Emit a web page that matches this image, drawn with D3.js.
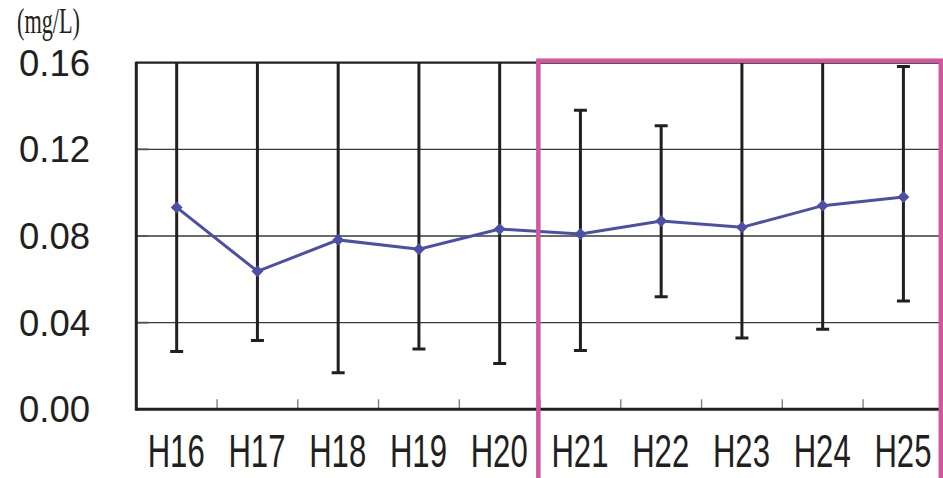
<!doctype html>
<html>
  <head>
    <meta charset="utf-8">
    <script src="https://cdn.jsdelivr.net/npm/d3@7"></script>
  <style>
    body { margin: 0; background: #fff; }
    svg { display: block; }
  </style>
  </head>
  <body>

    <svg width="943" height="478"></svg>

  <script>

    // data
    let years = ["H16","H17","H18","H19","H20","H21","H22","H23","H24","H25"]
    let means = [0.0932, 0.0637, 0.0782, 0.0739, 0.0832, 0.0809, 0.0869, 0.0840, 0.0940, 0.0980]
    let lows  = [0.0267, 0.0318, 0.0169, 0.0278, 0.0211, 0.0271, 0.0520, 0.0329, 0.0369, 0.0500]
    let highs = [0.175, 0.175, 0.175, 0.175, 0.175, 0.1380, 0.1309, 0.175, 0.175, 0.1582]
    let yTicks = [0, 0.04, 0.08, 0.12, 0.16]
    let highlight = ["H21", "H25"]

    let margin = {top: 62.7, left: 136.3, bottom: 409.3, right: 943.8}

    let svg = d3.select("svg")

    let x = d3.scaleBand()
              .domain(years)
              .range([margin.left, margin.right])

    let y = d3.scaleLinear()
              .domain([0, 0.16])
              .range([margin.bottom, margin.top])

    let cx = (d) => x(d) + x.bandwidth() / 2

    svg.append("clipPath").attr("id", "plot")
      .append("rect")
        .attr("x", margin.left).attr("y", margin.top)
        .attr("width", margin.right - margin.left)
        .attr("height", margin.bottom - margin.top)

    // gridlines
    svg.append("g")
      .selectAll("line")
      .data(yTicks.slice(1, 4))
      .enter().append("line")
        .attr("x1", margin.left).attr("x2", margin.right)
        .attr("y1", (d) => y(d)).attr("y2", (d) => y(d))
        .attr("stroke", "#3a3a3a")
        .attr("stroke-width", 1.3)

    // top border
    svg.append("line")
        .attr("x1", margin.left).attr("x2", margin.right)
        .attr("y1", y(0.16)).attr("y2", y(0.16))
        .attr("stroke", "#231f20")
        .attr("stroke-width", 2.2)

    // x ticks between categories, pointing up
    svg.append("g")
      .selectAll("line")
      .data(years.slice(1))
      .enter().append("line")
        .attr("x1", (d) => x(d)).attr("x2", (d) => x(d))
        .attr("y1", y(0)).attr("y2", y(0) - 10)
        .attr("stroke", "#777")
        .attr("stroke-width", 1.3)

    // y inner ticks
    svg.append("g")
      .selectAll("line")
      .data(yTicks.slice(1, 4))
      .enter().append("line")
        .attr("x1", margin.left).attr("x2", margin.left + 12)
        .attr("y1", (d) => y(d)).attr("y2", (d) => y(d))
        .attr("stroke", "#555")
        .attr("stroke-width", 1.8)

    // error bars
    let bars = svg.append("g").attr("clip-path", "url(#plot)")
    years.forEach(function(yr, i) {
      bars.append("line")
          .attr("x1", cx(yr)).attr("x2", cx(yr))
          .attr("y1", y(lows[i])).attr("y2", y(highs[i]))
          .attr("stroke", "#231f20").attr("stroke-width", 3)
      for (let v of [lows[i], highs[i]]) {
        bars.append("line")
            .attr("x1", cx(yr) - 6.5).attr("x2", cx(yr) + 6.5)
            .attr("y1", y(v)).attr("y2", y(v))
            .attr("stroke", "#231f20").attr("stroke-width", 3)
      }
    })

    // axes lines
    svg.append("line")
        .attr("x1", margin.left).attr("x2", margin.left)
        .attr("y1", y(0.16) - 1).attr("y2", y(0) + 1.5)
        .attr("stroke", "#231f20").attr("stroke-width", 3)
    svg.append("line")
        .attr("x1", margin.left).attr("x2", margin.right)
        .attr("y1", y(0)).attr("y2", y(0))
        .attr("stroke", "#231f20").attr("stroke-width", 3)

    // mean line
    let line = d3.line()
                 .x((d, i) => cx(years[i]))
                 .y((d) => y(d))
    svg.append("path")
        .datum(means)
        .attr("d", line)
        .attr("fill", "none")
        .attr("stroke", "#4b50a6")
        .attr("stroke-width", 3)

    svg.append("g")
      .selectAll("path")
      .data(means)
      .enter().append("path")
        .attr("d", d3.symbol(d3.symbolDiamond2, 90))
        .attr("transform", (d, i) => "translate(" + cx(years[i]) + "," + y(d) + ")")
        .attr("fill", "#4b50a6")

    // y labels
    svg.append("g")
      .selectAll("text")
      .data(yTicks)
      .enter().append("text")
        .attr("x", 90)
        .attr("y", (d) => y(d))
        .attr("dy", "0.36em")
        .attr("text-anchor", "end")
        .attr("font-family", "'Liberation Sans', Arial, sans-serif")
        .attr("font-size", 36.5)
        .attr("fill", "#231f20")
        .text((d) => d.toFixed(2))

    // x labels
    svg.append("g")
      .selectAll("text")
      .data(years)
      .enter().append("text")
        .attr("x", (d) => cx(d) - 29)
        .attr("y", 467)
        .attr("textLength", 57)
        .attr("lengthAdjust", "spacingAndGlyphs")
        .attr("font-family", "'Liberation Sans', Arial, sans-serif")
        .attr("font-size", 46)
        .attr("fill", "#231f20")
        .text((d) => d)

    // unit
    svg.append("text")
        .attr("x", 17)
        .attr("y", 33)
        .attr("textLength", 63)
        .attr("lengthAdjust", "spacingAndGlyphs")
        .attr("font-family", "'Liberation Serif', serif")
        .attr("font-size", 36)
        .attr("fill", "#231f20")
        .text("(mg/L)")

    // highlight box around H21-H25
    let hx0 = x(highlight[0]) - 1.7
    let hx1 = x(highlight[1]) + x.bandwidth() - 3
    svg.append("rect")
        .attr("x", hx0)
        .attr("y", y(0.16) - 2)
        .attr("width", hx1 - hx0)
        .attr("height", 500)
        .attr("fill", "none")
        .attr("stroke", "#d3579e")
        .attr("stroke-width", 4.5)

  </script>
  </body>
</html>
